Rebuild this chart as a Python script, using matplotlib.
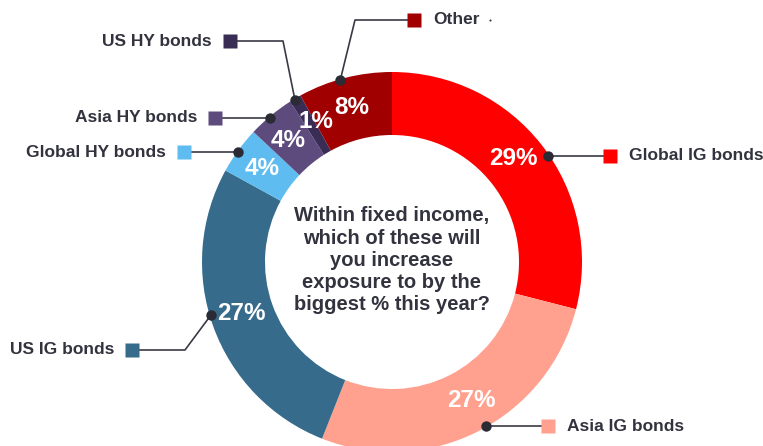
import matplotlib
matplotlib.use("Agg")
import matplotlib.pyplot as plt
import numpy as np

# ---- data ----
categories = ["Global IG bonds", "Asia IG bonds", "US IG bonds", "Global HY bonds",
              "Asia HY bonds", "US HY bonds", "Other"]
values = [29, 27, 27, 4, 4, 1, 8]
colors = ["#FF0000", "#FFA18E", "#366B8B", "#5EBCF0", "#5E4B7E", "#3A2D55", "#A00000"]
center_text = "Within fixed income,\nwhich of these will\nyou increase\nexposure to by the\nbiggest % this year?"

# ---- layout (pixel space, y up) ----
W, H = 763, 446
cx, cy = 392, 446 - 262
R_out, ring_w = 190, 63
dot_angles = [34.2, -60.2, 196.4, 144.5, 130.3, 120.9, 105.9]
pct_angles = [40.4, -60.2, 198.8, 144.3, 130.4, 118.4, 104.7]
# leader path: elbow point (or None), square centre, text side
legend_layout = [
    (None, (610, 157), "right"),
    (None, (548, 426), "right"),
    ((185, 350), (132, 350), "left"),
    (None, (184, 150), "left"),
    (None, (215, 116), "left"),
    ((283, 41), (230, 41), "left"),
    ((355, 20), (414, 20), "right"),
]

sans = ["Liberation Sans", "DejaVu Sans"]
narrow = ["Liberation Sans Narrow", "Liberation Sans", "DejaVu Sans"]
txt_color = "#33333F"
line_color = "#3A3A45"

fig = plt.figure(figsize=(W / 100, H / 100), dpi=100)
ax = fig.add_axes([0, 0, 1, 1])
ax.pie(values, colors=colors, startangle=90, counterclock=False,
       radius=R_out, center=(cx, cy),
       wedgeprops=dict(width=ring_w, linewidth=0))
ax.set_xlim(0, W)
ax.set_ylim(0, H)
ax.set_aspect("equal")
ax.axis("off")

r_mid = R_out - ring_w / 2 + 1
for v, a in zip(values, pct_angles):
    t = np.deg2rad(a)
    ax.text(cx + r_mid * np.cos(t), cy + r_mid * np.sin(t), f"{v}%",
            color="white", fontsize=17.5, fontweight="bold", family=narrow,
            ha="center", va="center")

for cat, col, a, (elbow, sq, side) in zip(categories, colors, dot_angles, legend_layout):
    t = np.deg2rad(a)
    dx, dy = cx + (R_out - 1) * np.cos(t), cy + (R_out - 1) * np.sin(t)
    sx, sy = sq[0], H - sq[1]
    xs, ys = [dx], [dy]
    if elbow is not None:
        xs.append(elbow[0]); ys.append(H - elbow[1])
        xs.append(sx); ys.append(sy)
    else:
        xs.append(sx); ys.append(dy)
        sy = dy
    ax.plot(xs, ys, color=line_color, lw=1.2, solid_capstyle="butt", zorder=3)
    ax.plot([dx], [dy], "o", color="#2B2B36", ms=7.5, mec="none", zorder=4)
    ax.plot([sx], [sy], "s", color=col, ms=10.5, mec="none", zorder=4)
    if side == "right":
        ax.text(sx + 19, sy, cat, ha="left", va="center", fontsize=12.5,
                fontweight="bold", color=txt_color, family=sans)
    else:
        ax.text(sx - 18, sy, cat, ha="right", va="center", fontsize=12.5,
                fontweight="bold", color=txt_color, family=sans)

# small stray dot next to "Other" in the original
ax.plot([490], [H - 20], "o", color="#33333F", ms=1.5, mec="none")

ax.text(cx, cy + 2, center_text, ha="center", va="center", fontsize=14.5,
        fontweight="bold", color=txt_color, family=sans, linespacing=1.2,
        multialignment="center")

fig.savefig("out.png", dpi=100)
